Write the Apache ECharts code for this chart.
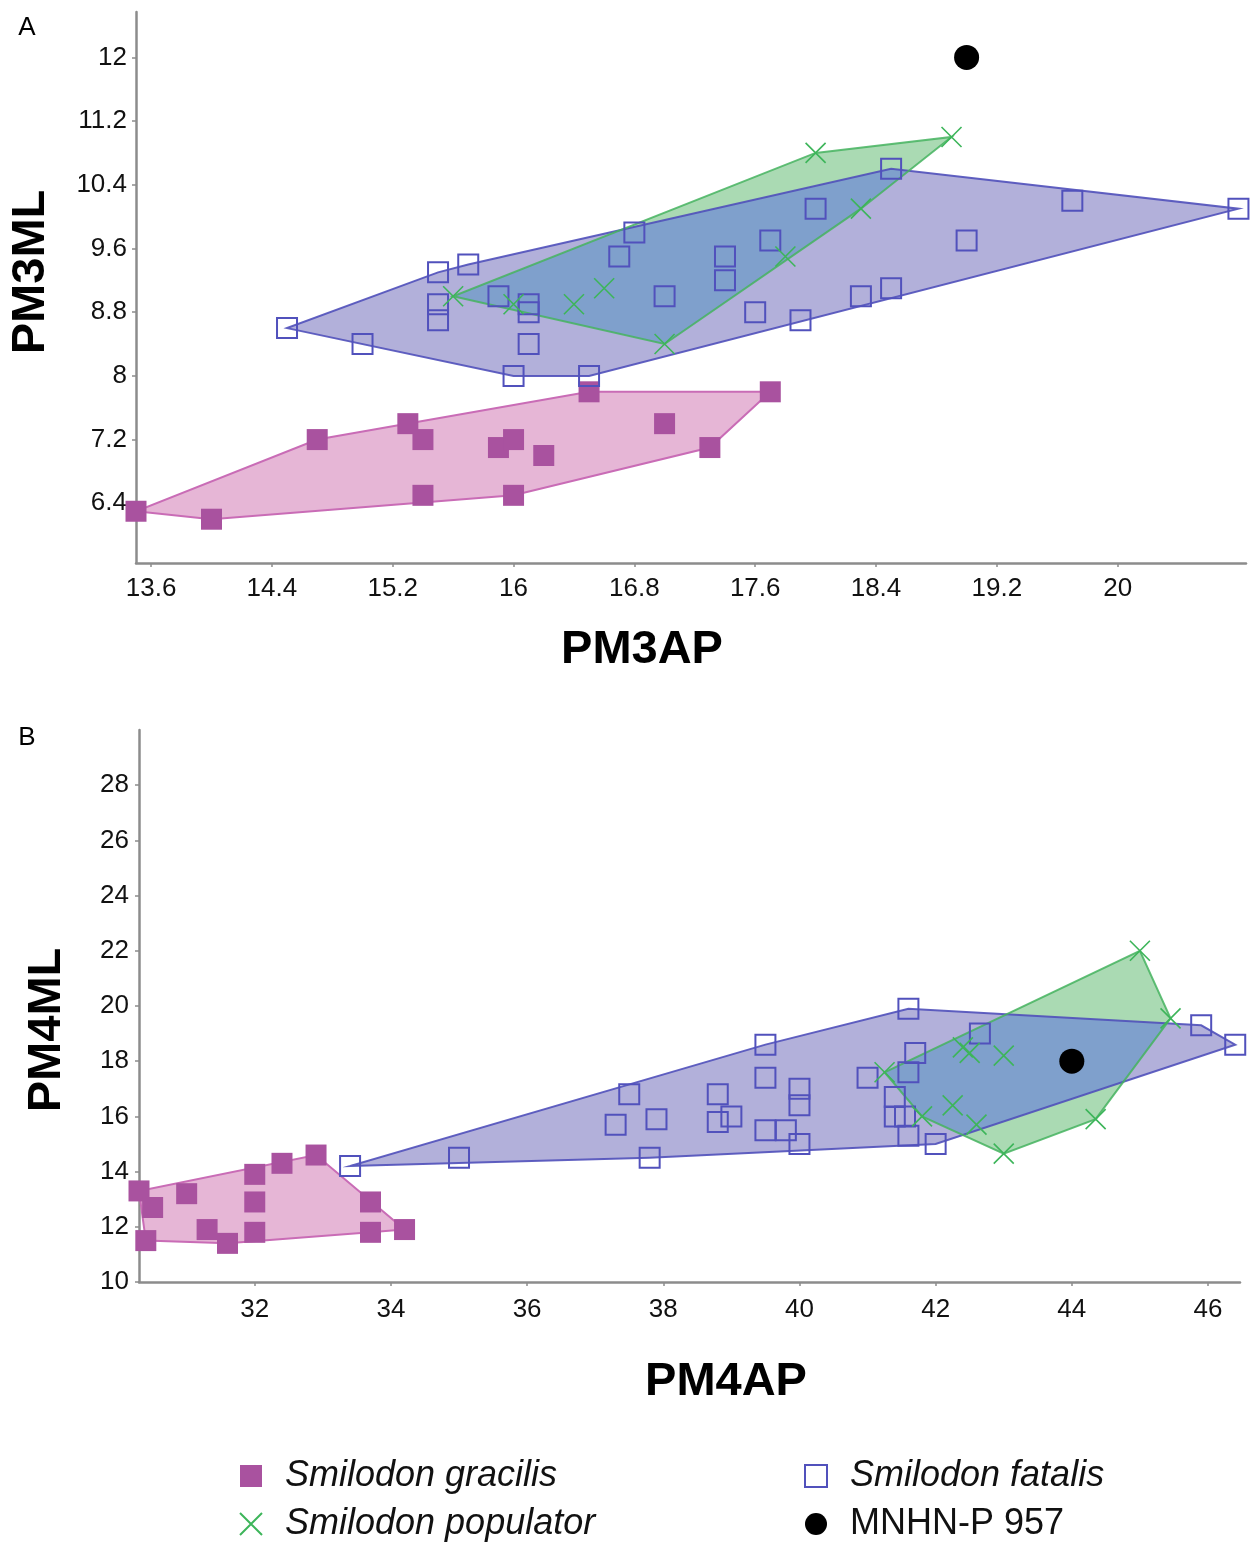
<!DOCTYPE html>
<html><head><meta charset="utf-8">
<script src="https://cdn.jsdelivr.net/npm/echarts@6/dist/echarts.min.js"></script>
<style>html,body{margin:0;padding:0;background:#fff}#c{width:1254px;height:1545px}</style>
</head><body><div id="c"></div>
<script>
// ---------- Panel A data (PM3AP, PM3ML) ----------
const gracilisA = [[13.5,6.3],[14.0,6.2],[14.7,7.2],[15.3,7.4],[15.4,7.2],[15.4,6.5],[15.9,7.1],[16.0,7.2],[16.0,6.5],[16.2,7.0],[16.5,7.8],[17.0,7.4],[17.3,7.1],[17.7,7.8]];
const fatalisA = [[14.5,8.6],[15.0,8.4],[15.5,9.3],[15.5,8.9],[15.5,8.7],[15.7,9.4],[15.9,9.0],[16.1,8.9],[16.1,8.8],[16.1,8.4],[16.0,8.0],[16.5,8.0],[16.7,9.5],[16.8,9.8],[17.0,9.0],[17.4,9.5],[17.4,9.2],[17.6,8.8],[17.7,9.7],[17.9,8.7],[18.0,10.1],[18.3,9.0],[18.5,9.1],[18.5,10.6],[19.0,9.7],[19.7,10.2],[20.8,10.1]];
const populatorA = [[15.6,9.0],[16.0,8.9],[16.4,8.9],[16.6,9.1],[17.0,8.4],[17.8,9.5],[18.0,10.8],[18.3,10.1],[18.9,11.0]];
const mnhnA = [[19.0,12.0]];
const xTicksA = [13.6,14.4,15.2,16,16.8,17.6,18.4,19.2,20];
const yTicksA = [6.4,7.2,8,8.8,9.6,10.4,11.2,12];

// ---------- Panel B data (PM4AP, PM4ML) ----------
const gracilisB = [[30.3,13.3],[30.5,12.7],[31.0,13.2],[31.3,11.9],[30.4,11.5],[31.6,11.4],[32.0,13.9],[32.0,12.9],[32.0,11.8],[32.4,14.3],[32.9,14.6],[33.7,12.9],[33.7,11.8],[34.2,11.9]];
const fatalisB = [[33.4,14.2],[35.0,14.5],[37.5,16.8],[37.3,15.7],[37.9,15.9],[37.8,14.5],[38.8,16.8],[38.8,15.8],[39.0,16.0],[39.5,18.6],[39.5,17.4],[39.5,15.5],[39.8,15.5],[40.0,17.0],[40.0,16.4],[40.0,15.0],[41.0,17.4],[41.4,16.7],[41.4,16.0],[41.55,16.0],[41.6,19.9],[41.7,18.3],[41.6,17.6],[41.6,15.3],[42.0,15.0],[42.65,19.0],[45.9,19.3],[46.4,18.6]];
const populatorB = [[41.25,17.6],[41.8,16.0],[42.25,16.4],[42.4,18.5],[42.5,18.3],[43.0,18.2],[42.6,15.7],[43.0,14.65],[44.35,15.9],[45.45,19.55],[45.0,22.0]];
const mnhnB = [[44.0,18.0]];
const xTicksB = [32,34,36,38,40,42,44,46];
const yTicksB = [10,12,14,16,18,20,22,24,26,28];

const NAMES = ['Smilodon gracilis','Smilodon populator','Smilodon fatalis','MNHN-P 957'];

const FONT = '"Liberation Sans", Arial, Helvetica, sans-serif';
const C = {
  pinkFill:'#E6B6D6', pinkLine:'#C96CB6', pinkMark:'#A9529F',
  purFill:'#B2B0DA', purLine:'#5050BA', purMark:'#5151BC',
  grnFill:'#AADAB3', grnLine:'#45B35F', grnMark:'#3DB55A',
  overlap:'#7FA0CC', axis:'#8c8c8c'
};

function convexHull(points){
  const p = points.map(a=>a.slice()).sort((a,b)=>a[0]-b[0]||a[1]-b[1]);
  const cross=(o,a,b)=>(a[0]-o[0])*(b[1]-o[1])-(a[1]-o[1])*(b[0]-o[0]);
  const lower=[];
  for(const q of p){while(lower.length>=2&&cross(lower[lower.length-2],lower[lower.length-1],q)<=0)lower.pop();lower.push(q);}
  const upper=[];
  for(let i=p.length-1;i>=0;i--){const q=p[i];while(upper.length>=2&&cross(upper[upper.length-2],upper[upper.length-1],q)<=0)upper.pop();upper.push(q);}
  upper.pop();lower.pop();
  return lower.concat(upper);
}
function clipPoly(subject, clip){
  let out = subject;
  for(let i=0;i<clip.length;i++){
    const a=clip[i], b=clip[(i+1)%clip.length];
    const inside = p => (b[0]-a[0])*(p[1]-a[1])-(b[1]-a[1])*(p[0]-a[0]) >= 0;
    const inter = (p,q) => {
      const x1=p[0],y1=p[1],x2=q[0],y2=q[1],x3=a[0],y3=a[1],x4=b[0],y4=b[1];
      const d=(x1-x2)*(y3-y4)-(y1-y2)*(x3-x4);
      const t=((x1-x3)*(y3-y4)-(y1-y3)*(x3-x4))/d;
      return [x1+t*(x2-x1), y1+t*(y2-y1)];
    };
    const inp = out; out = [];
    if(!inp.length) break;
    for(let j=0;j<inp.length;j++){
      const cur=inp[j], prev=inp[(j+inp.length-1)%inp.length];
      if(inside(cur)){ if(!inside(prev)) out.push(inter(prev,cur)); out.push(cur); }
      else if(inside(prev)) out.push(inter(prev,cur));
    }
  }
  return out;
}

function polySeries(poly, panel, style, z){
  return {type:'custom', xAxisIndex:panel, yAxisIndex:panel, silent:true, z, clip:true, animation:false,
    data:[poly[0]],
    renderItem:(params, api)=>({type:'polygon', shape:{points: poly.map(p=>api.coord(p))}, style})};
}

const X_PATH = 'path://M0,0L20,20M20,0L0,20';
function scatterSet(panel, gr, fa, po, mn){
  return [
    {type:'scatter', name:NAMES[0], xAxisIndex:panel, yAxisIndex:panel, data:gr, symbol:'rect', symbolSize:21,
      itemStyle:{color:C.pinkMark, opacity:1}, z:6, silent:true, animation:false},
    {type:'scatter', name:NAMES[2], xAxisIndex:panel, yAxisIndex:panel, data:fa, symbol:'rect', symbolSize:20,
      itemStyle:{color:'rgba(255,255,255,0)', borderColor:C.purMark, borderWidth:2, opacity:1}, z:6, silent:true, animation:false},
    {type:'scatter', name:NAMES[1], xAxisIndex:panel, yAxisIndex:panel, data:po, symbol:X_PATH, symbolSize:20,
      itemStyle:{color:'rgba(255,255,255,0)', borderColor:C.grnMark, borderWidth:1.6, opacity:1}, z:7, silent:true, animation:false},
    {type:'scatter', name:NAMES[3], xAxisIndex:panel, yAxisIndex:panel, data:mn, symbol:'circle', symbolSize:25,
      itemStyle:{color:'#000', opacity:1}, z:8, silent:true, animation:false}
  ];
}

function hullSet(panel, gr, fa, po){
  const hg = convexHull(gr), hf = convexHull(fa), hp = convexHull(po);
  const ov = clipPoly(hp, hf);
  const s = [
    polySeries(hf, panel, {fill:C.purFill, stroke:null}, 1),
    polySeries(hp, panel, {fill:C.grnFill, stroke:null}, 1),
    polySeries(hg, panel, {fill:C.pinkFill, stroke:null}, 1)
  ];
  if(ov.length>2) s.push(polySeries(ov, panel, {fill:C.overlap, stroke:null}, 2));
  s.push(polySeries(hf, panel, {fill:'none', stroke:C.purLine, lineWidth:2, opacity:0.9}, 3));
  s.push(polySeries(hp, panel, {fill:'none', stroke:C.grnLine, lineWidth:2, opacity:0.85}, 3));
  s.push(polySeries(hg, panel, {fill:'none', stroke:C.pinkLine, lineWidth:2}, 3));
  return s;
}

function axisCfg(gi, min, max, ticks, margin){
  return {type:'value', gridIndex:gi, min, max, splitLine:{show:false},
    axisLine:{show:true, onZero:false, lineStyle:{color:C.axis, width:2.5}},
    axisTick:{show:true, length:4, customValues:ticks, lineStyle:{color:C.axis, width:1.5}},
    axisLabel:{customValues:ticks, margin, fontSize:26, color:'#111', fontFamily:FONT}};
}

const legendText = {fontFamily:FONT, fontSize:36, color:'#111', padding:[0,0,0,18]};
function legendCfg(left, names){
  return {left, top:1458, orient:'vertical', itemGap:12, itemWidth:22, itemHeight:22, padding:0,
    selectedMode:false, textStyle:legendText,
    data:names.map(n=>({name:n, textStyle:{fontStyle: n.indexOf('Smilodon')===0 ? 'italic':'normal'}}))};
}

function txt(x, y, text, size, bold, rot){
  return {type:'text', x, y, rotation:rot||0, silent:true,
    style:{text, font:(bold?'bold ':'')+size+'px '+FONT, fill:'#000',
      align:'center', verticalAlign:'middle', textAlign:'center', textVerticalAlign:'middle'}};
}

const option = {
  backgroundColor:'#fff',
  animation:false,
  grid:[
    {left:136, top:12, width:1110, height:551},
    {left:139, top:730, width:1101, height:552}
  ],
  xAxis:[axisCfg(0, 13.5, 20.85, xTicksA, 13), axisCfg(1, 30.3, 46.47, xTicksB, 15)],
  yAxis:[axisCfg(0, 5.65, 12.57, yTicksA, 9), axisCfg(1, 10, 30, yTicksB, 10)],
  legend:[legendCfg(239, [NAMES[0], NAMES[1]]), legendCfg(804, [NAMES[2], NAMES[3]])],
  graphic:[
    txt(27, 28, 'A', 26, false),
    txt(27, 738, 'B', 26, false),
    txt(642, 650, 'PM3AP', 47, true),
    txt(31, 272, 'PM3ML', 47, true, Math.PI/2),
    txt(726, 1382, 'PM4AP', 47, true),
    txt(47, 1030, 'PM4ML', 47, true, Math.PI/2)
  ],
  series:[].concat(
    hullSet(0, gracilisA, fatalisA, populatorA),
    hullSet(1, gracilisB, fatalisB, populatorB),
    scatterSet(0, gracilisA, fatalisA, populatorA, mnhnA),
    scatterSet(1, gracilisB, fatalisB, populatorB, mnhnB)
  )
};
const chart = echarts.init(document.getElementById('c'));
chart.setOption(option);
</script>
</body></html>
